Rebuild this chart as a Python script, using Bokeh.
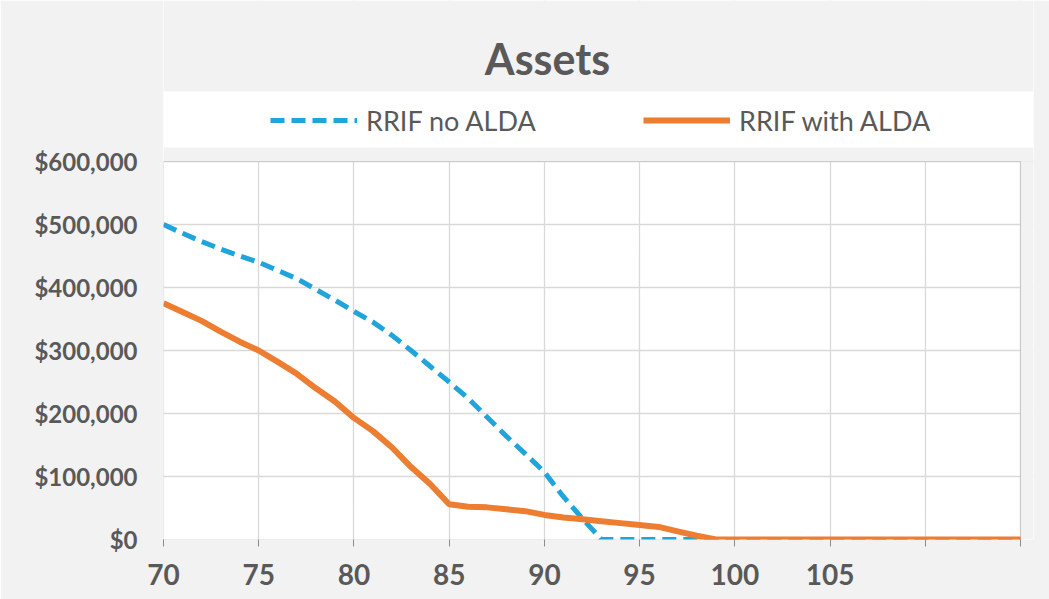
from bokeh.plotting import figure
from bokeh.models import (Range1d, FixedTicker, NumeralTickFormatter, Legend, LegendItem,
                          BoxAnnotation, Label)
from bokeh.embed import file_html
from bokeh.resources import INLINE

# ---------------- data ----------------
ages = list(range(70, 116))
no_alda = [500000, 486000, 473000, 461000, 450000, 440000, 427000, 414000, 397000, 380000,
           362000, 345000, 324000, 300000, 275000, 250000, 224000, 194000, 164000, 136000,
           107000, 68000, 33000, 0, 0, 0, 0, 0, 0, 0,
           0, 0, 0, 0, 0, 0, 0, 0, 0, 0,
           0, 0, 0, 0, 0, 0]
with_alda = [375000, 361000, 347000, 330000, 314000, 300000, 282000, 263000, 240000, 219000,
             193000, 172000, 146000, 115000, 88000, 56000, 52000, 51000, 48000, 45000,
             39000, 35000, 32000, 29000, 26000, 23000, 20000, 13000, 6000, 0,
             0, 0, 0, 0, 0, 0, 0, 0, 0, 0,
             0, 0, 0, 0, 0, 0]
x_ticks = [70, 75, 80, 85, 90, 95, 100, 105, 110, 115]
x_tick_labels = ["70", "75", "80", "85", "90", "95", "100", "105", "", ""]
y_ticks = [0, 100000, 200000, 300000, 400000, 500000, 600000]
series_names = ["RRIF no ALDA", "RRIF with ALDA"]
title_text = "Assets"

# ---------------- layout (pixels) ----------------
W, H = 1049, 599
PLOT_L, PLOT_R, PLOT_T, PLOT_B = 163, 1020, 161, 539      # the chart's plot area
FRAME_R = 1033                                           # frame also holds legend band
LEG_T, LEG_B = 91, 147
X0, X1 = 70, 115
Y0, Y1 = 0, 600000

BG = "#f2f2f2"
TXT = "#595959"
AXC = "#8c8c8c"
BLUE = "#1fa4dc"
ORANGE = "#ed7d31"
FONT = "Lato"

xpp = (X1 - X0) / (PLOT_R - PLOT_L)      # data units per pixel
ypp = (Y1 - Y0) / (PLOT_B - PLOT_T)


def px_x(px):
    return X0 + (px - PLOT_L) * xpp


def px_y(py):
    return Y0 + (PLOT_B - py) * ypp


p = figure(width=W, height=H, output_backend="svg", toolbar_location=None, tools="",
           x_range=Range1d(X0, px_x(FRAME_R)), y_range=Range1d(Y0, px_y(0)),
           min_border_left=PLOT_L, min_border_right=W - FRAME_R, min_border_top=0,
           min_border_bottom=H - PLOT_B)
p.background_fill_color = "white"
p.border_fill_color = BG
p.outline_line_color = None

# gray area above the plot area, white legend band, gray strip right of plot area
p.add_layout(BoxAnnotation(bottom=Y1, fill_color=BG, fill_alpha=1.0, line_alpha=0,
                           level="underlay"))
p.add_layout(BoxAnnotation(left=X1, top=Y1, fill_color=BG, fill_alpha=1.0, line_alpha=0,
                           level="underlay"))
p.add_layout(BoxAnnotation(bottom=px_y(LEG_B), top=px_y(LEG_T), fill_color="white",
                           fill_alpha=1.0, line_alpha=0, level="underlay"))
# plot-area outline
p.add_layout(BoxAnnotation(left=X0, right=X1, bottom=Y0, top=Y1, fill_alpha=0,
                           line_color=AXC, line_width=1.2, level="underlay"))

p.add_layout(Label(x=px_x(547), y=px_y(58), text=title_text,
                   text_align="center", text_baseline="alphabetic", text_font=FONT,
                   text_font_style="bold", text_font_size="43px", text_color=TXT))

r1 = p.line(ages, no_alda, line_color=BLUE, line_width=5, line_dash="14 7", line_join="round")
r2 = p.line(ages, with_alda, line_color=ORANGE, line_width=6, line_join="round")

legend = Legend(items=[LegendItem(label=series_names[0], renderers=[r1]),
                       LegendItem(label=series_names[1], renderers=[r2])],
                orientation="horizontal", location=(270 - PLOT_L, PLOT_B - 120 - 20),
                glyph_width=87, glyph_height=40, label_height=40, label_width=230,
                label_standoff=9, spacing=47, padding=0, margin=0,
                border_line_alpha=0, background_fill_alpha=0,
                label_text_font=FONT, label_text_font_size="27px", label_text_color=TXT)
p.add_layout(legend, "center")

p.xaxis.ticker = FixedTicker(ticks=x_ticks)
p.xaxis.major_label_overrides = {t: l for t, l in zip(x_ticks, x_tick_labels)}
p.xaxis.major_tick_out = 7
p.xaxis.major_tick_in = 0
p.xaxis.minor_tick_line_color = None
p.xaxis.axis_line_color = None
p.xaxis.major_tick_line_color = AXC
p.xaxis.major_label_standoff = 17
p.xaxis.major_label_text_font = FONT
p.xaxis.major_label_text_font_style = "bold"
p.xaxis.major_label_text_font_size = "28px"
p.xaxis.major_label_text_color = TXT

p.yaxis.ticker = FixedTicker(ticks=y_ticks)
p.yaxis.formatter = NumeralTickFormatter(format="$0,0")
p.yaxis.major_tick_out = 0
p.yaxis.major_tick_in = 0
p.yaxis.minor_tick_line_color = None
p.yaxis.axis_line_color = None
p.yaxis.major_label_standoff = 26
p.yaxis.major_label_text_font = FONT
p.yaxis.major_label_text_font_style = "bold"
p.yaxis.major_label_text_font_size = "24px"
p.yaxis.major_label_text_color = TXT

p.xgrid.ticker = FixedTicker(ticks=x_ticks)
p.ygrid.ticker = FixedTicker(ticks=y_ticks)
p.grid.grid_line_color = "#d9d9d9"
p.grid.grid_line_width = 1.3

open("out.html", "w").write(file_html(p, INLINE))
